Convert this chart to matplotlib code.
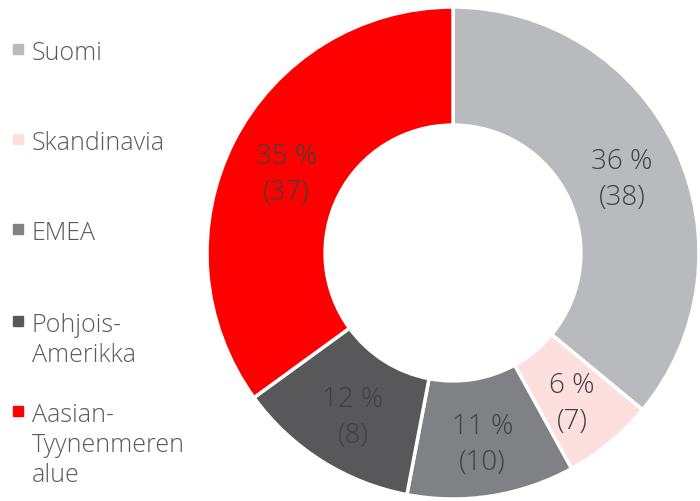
import numpy as np
import matplotlib
matplotlib.use("Agg")
import matplotlib.pyplot as plt
from matplotlib.patches import Rectangle

# data
regions = ["Suomi", "Skandinavia", "EMEA", "Pohjois-\nAmerikka", "Aasian-\nTyynenmeren\nalue"]
shares = [36, 6, 11, 12, 35]      # percent
counts = [38, 7, 10, 8, 37]
colors = ["#b8babd", "#fde0de", "#808184", "#58585a", "#ff0000"]

plt.rcParams['font.family'] = ['Open Sans', 'DejaVu Sans']

W, H = 700, 502
fig = plt.figure(figsize=(W / 100, H / 100), dpi=100)

cx, cy, R = 453, 254, 246
ax = fig.add_axes([(cx - R) / W, (H - cy - R) / H, 2 * R / W, 2 * R / H])

wedges, _ = ax.pie(shares, colors=colors, startangle=90, counterclock=False, radius=1,
                   wedgeprops=dict(width=0.48, edgecolor='white', linewidth=2.5))
ax.set_xlim(-1, 1)
ax.set_ylim(-1, 1)
ax.set_aspect('equal')
ax.axis('off')

# labels in ring, two lines each
px = 72 / 100  # one pixel in points
for w, s, c in zip(wedges, shares, counts):
    ang = np.deg2rad((w.theta1 + w.theta2) / 2)
    r = 0.76
    xy = (r * np.cos(ang), r * np.sin(ang))
    for txt, off in [(f"{s} %", 12), (f"({c})", -24)]:
        ax.annotate(txt, xy, xytext=(0, off * px), textcoords='offset points',
                    ha='center', va='center', fontsize=20, color='#404040',
                    fontweight='light')

# legend at left
leg_y = [50, 140, 230, 322, 412]
for name, col, y in zip(regions, colors, leg_y):
    fig.patches.append(Rectangle((13 / W, (H - y - 5) / H), 10 / W, 10 / H,
                                 transform=fig.transFigure, color=col, figure=fig))
    for i, line in enumerate(name.split("\n")):
        fig.text(32 / W, (H - y - 10 - 30 * i) / H, line, ha='left', va='baseline',
                 fontsize=18, color='#595959', fontweight='light',
                 transform=fig.transFigure)

fig.savefig("out.png", dpi=100)
